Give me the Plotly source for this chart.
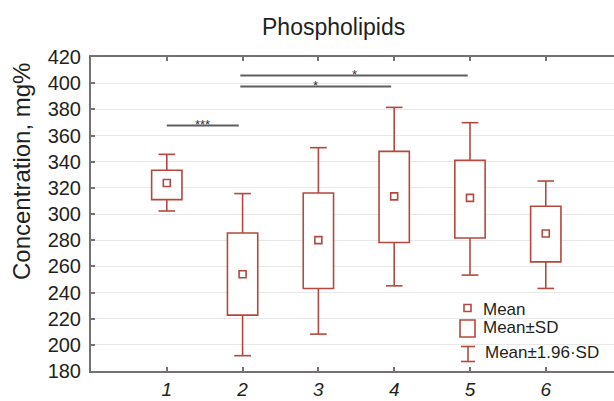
import plotly.graph_objects as go

groups = [1, 2, 3, 4, 5, 6]
means = [323.7, 254.0, 280.0, 313.5, 312.3, 285.1]
sd_low = [311.0, 222.7, 243.1, 278.2, 281.7, 263.4]
sd_high = [333.4, 285.5, 316.1, 347.9, 341.0, 305.9]
ci_low = [302.3, 191.7, 208.2, 245.1, 253.3, 243.1]
ci_high = [345.6, 315.6, 350.7, 381.5, 369.8, 325.2]
tick_labels = ["1", "2", "3", "4", "5", "6"]
y_ticks = list(range(180, 421, 20))

# significance brackets: (x_start, x_end, y, label)
sig_x0 = [1.0, 1.97, 1.97]
sig_x1 = [1.95, 3.96, 4.97]
sig_y = [367.7, 397.5, 405.9]
sig_labels = ["***", "*", "*"]

RED = "#b4483f"
GRAY = "#767171"
TXT = "#231f20"
FONT = "Liberation Sans, Arial, sans-serif"

W, H = 614, 401
ML, MR, MT, MB = 91, 0, 57, 30
PW, PH = W - ML - MR, H - MT - MB


def px(xp):
    return (xp - ML) / PW


def py(yp):
    return (H - MB - yp) / PH


fig = go.Figure()

# SD boxes
fig.add_trace(go.Bar(
    x=groups, y=[h - l for h, l in zip(sd_high, sd_low)], base=sd_low,
    width=0.4, marker=dict(color="white", line=dict(color=RED, width=1.6)),
    showlegend=False, hoverinfo="skip"))

# whiskers with caps
wx, wy = [], []
cap = 0.11
for g, lo, hi, bl, bh in zip(groups, ci_low, ci_high, sd_low, sd_high):
    wx += [g, g, None, g - cap, g + cap, None, g, g, None, g - cap, g + cap, None]
    wy += [bh, hi, None, hi, hi, None, bl, lo, None, lo, lo, None]
fig.add_trace(go.Scatter(x=wx, y=wy, mode="lines", line=dict(color=RED, width=1.6),
                         showlegend=False, hoverinfo="skip"))

# means
fig.add_trace(go.Scatter(x=groups, y=means, mode="markers",
                         marker=dict(symbol="square-open", size=7, color=RED,
                                     line=dict(color=RED, width=1.6)),
                         showlegend=False, hoverinfo="skip"))

# significance lines
sx, sy = [], []
for a, b, y in zip(sig_x0, sig_x1, sig_y):
    sx += [a, b, None]
    sy += [y, y, None]
fig.add_trace(go.Scatter(x=sx, y=sy, mode="lines", line=dict(color="#5e5e5e", width=2),
                         showlegend=False, hoverinfo="skip"))

annotations = []
for a, b, y, t in zip(sig_x0, sig_x1, sig_y, sig_labels):
    annotations.append(dict(x=(a + b) / 2, y=y, xref="x", yref="y", text=t, showarrow=False,
                            yanchor="middle", yshift=1,
                            font=dict(family=FONT, size=13, color="#333333")))

# title & y title
annotations.append(dict(x=px(333), y=py(27), xref="paper", yref="paper", text="Phospholipids",
                        showarrow=False, xanchor="center", yanchor="middle",
                        font=dict(family=FONT, size=23, color=TXT)))
annotations.append(dict(x=px(21), y=py(172), xref="paper", yref="paper",
                        text="Concentration, mg%", textangle=-90, showarrow=False,
                        xanchor="center", yanchor="middle",
                        font=dict(family=FONT, size=24, color=TXT)))

# legend texts
for t, yy, xx in [("Mean", 309, 480.5), ("Mean±SD", 327, 480.5), ("Mean±1.96·SD", 352, 482.5)]:
    annotations.append(dict(x=px(xx), y=py(yy), xref="paper", yref="paper", text=t,
                            showarrow=False, xanchor="left", yanchor="middle",
                            font=dict(family=FONT, size=17, color=TXT)))

shapes = []
# legend mean icon
shapes.append(dict(type="rect", xref="paper", yref="paper",
                   x0=px(464), x1=px(471), y0=py(311.5), y1=py(304.5),
                   line=dict(color=RED, width=1.6), fillcolor="white"))
# legend box icon
shapes.append(dict(type="rect", xref="paper", yref="paper",
                   x0=px(460), x1=px(475), y0=py(337), y1=py(320),
                   line=dict(color=RED, width=1.6), fillcolor="white"))
# legend whisker icon
for (x0, y0, x1, y1) in [(468, 346.5, 468, 361.5), (461, 346.5, 475, 346.5), (461, 361.5, 475, 361.5)]:
    shapes.append(dict(type="line", xref="paper", yref="paper",
                       x0=px(x0), y0=py(y0), x1=px(x1), y1=py(y1),
                       line=dict(color=RED, width=1.6)))

fig.update_layout(
    width=W, height=H,
    margin=dict(l=ML, r=MR, t=MT, b=MB, autoexpand=False),
    paper_bgcolor="white", plot_bgcolor="white",
    showlegend=False,
    annotations=annotations, shapes=shapes,
    xaxis=dict(range=[0, 6.9], tickvals=groups, ticktext=tick_labels, automargin=False,
               ticks="inside", ticklen=4, tickcolor=GRAY, tickwidth=1.5,
               showline=True, linecolor=GRAY, linewidth=2, mirror="allticks",
               showgrid=False, zeroline=False, ticklabelstandoff=0,
               tickfont=dict(family=FONT, size=19, color=TXT, style="italic")),
    yaxis=dict(range=[180, 420], tickvals=y_ticks, automargin=False,
               ticks="inside", ticklen=4, tickcolor=GRAY, tickwidth=1.5,
               showline=True, linecolor=GRAY, linewidth=2,
               showgrid=True, gridcolor="#e8e8e8", gridwidth=1.2, zeroline=False,
               ticklabelstandoff=4,
               tickfont=dict(family=FONT, size=20, color=TXT)),
)

fig.write_html(
    "out.html",
    config={"displayModeBar": False},
    post_script="document.body.style.margin='0';document.body.style.overflow='hidden';",
)
